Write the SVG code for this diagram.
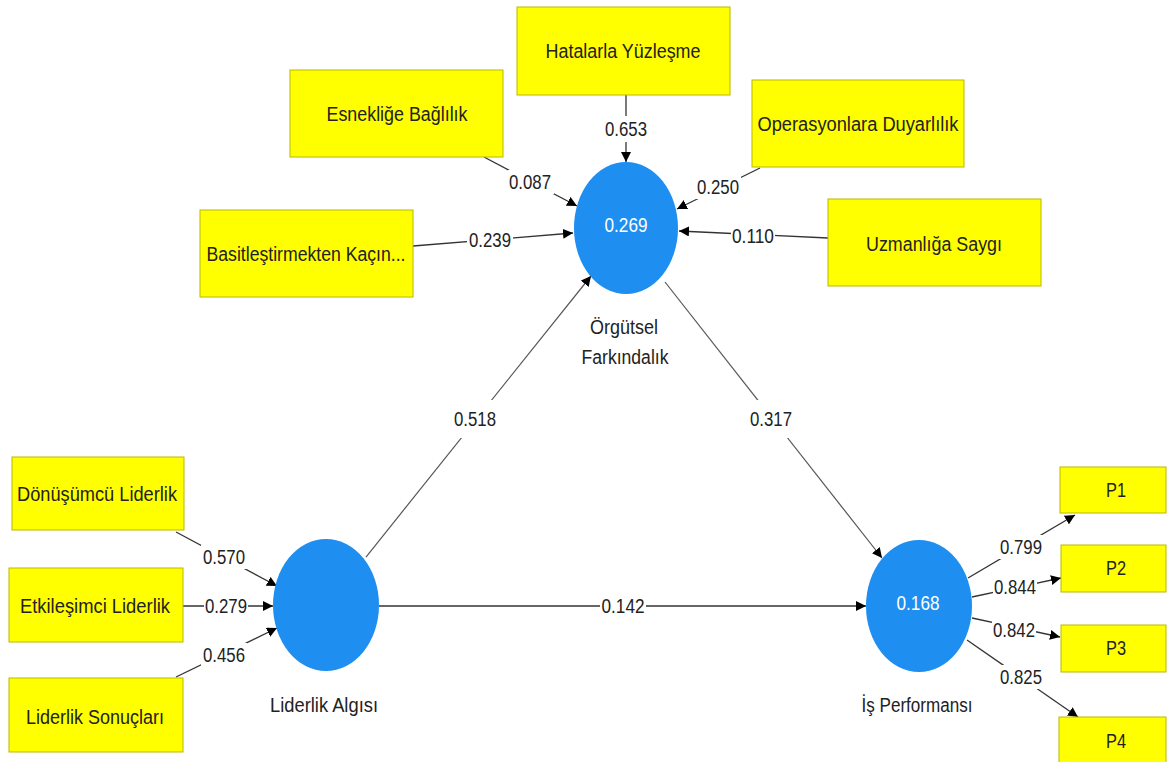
<svg xmlns="http://www.w3.org/2000/svg" width="1170" height="762" viewBox="0 0 1170 762">
<defs>
<style>
.box{fill:#ffff00;stroke:#b9b900;stroke-width:1}
.lv{fill:#1e8ff0}
.t{font-family:"Liberation Sans",Arial,sans-serif;font-size:20px;fill:#222;text-anchor:middle;dominant-baseline:central}
.w{fill:#ffffff}
.e{stroke:#333;stroke-width:1.3;fill:none;marker-end:url(#ah)}
.p{stroke:#555;stroke-width:1.2;fill:none;marker-end:url(#ah)}
.bg{fill:#fff}
.el{font-family:"Liberation Sans",Arial,sans-serif;font-size:20px;fill:#222;text-anchor:middle;dominant-baseline:central}
</style>
<marker id="ah" viewBox="0 0 10 10" refX="10" refY="5" markerWidth="10" markerHeight="10" markerUnits="userSpaceOnUse" orient="auto">
<path d="M0,0 L10,5 L0,10 z" fill="#000"/>
</marker>
</defs>
<rect width="1170" height="762" fill="#fff"/>
<g id="connectors">
<line class="e" x1="626" y1="95" x2="626" y2="162"/>
<line class="e" x1="484" y1="157" x2="577" y2="206"/>
<line class="e" x1="413" y1="246" x2="573" y2="233"/>
<line class="e" x1="760" y1="168" x2="677" y2="209"/>
<line class="e" x1="828" y1="238" x2="679" y2="231"/>
<line class="p" x1="366" y1="557" x2="591" y2="276"/>
<line class="p" x1="665" y1="282" x2="882" y2="558"/>
<line class="e" x1="379" y1="606" x2="866" y2="606"/>
<line class="e" x1="176" y1="532" x2="277" y2="586"/>
<line class="e" x1="183" y1="606" x2="273" y2="606"/>
<line class="e" x1="176" y1="677" x2="277" y2="628"/>
<line class="e" x1="968" y1="578" x2="1075" y2="515"/>
<line class="e" x1="972" y1="597" x2="1061" y2="578"/>
<line class="e" x1="972" y1="618" x2="1060" y2="637"/>
<line class="e" x1="967" y1="640" x2="1078" y2="717"/>
<rect class="bg" x="603" y="116" width="46" height="26"/>
<rect class="bg" x="508" y="170" width="46" height="24"/>
<rect class="bg" x="467" y="229" width="46" height="22"/>
<rect class="bg" x="695" y="175" width="46" height="24"/>
<rect class="bg" x="731" y="225" width="44" height="22"/>
<rect class="bg" x="452" y="400" width="46" height="38"/>
<rect class="bg" x="748" y="400" width="46" height="38"/>
<rect class="bg" x="600" y="595" width="46" height="22"/>
<rect class="bg" x="201" y="545" width="46" height="24"/>
<rect class="bg" x="204" y="595" width="44" height="22"/>
<rect class="bg" x="201" y="643" width="46" height="24"/>
<rect class="bg" x="998" y="535" width="46" height="24"/>
<rect class="bg" x="993" y="576" width="44" height="22"/>
<rect class="bg" x="992" y="619" width="44" height="22"/>
<rect class="bg" x="998" y="665" width="46" height="24"/>
<text class="el" x="626" y="129" textLength="42" lengthAdjust="spacingAndGlyphs">0.653</text>
<text class="el" x="530" y="182" textLength="42" lengthAdjust="spacingAndGlyphs">0.087</text>
<text class="el" x="490" y="240" textLength="42" lengthAdjust="spacingAndGlyphs">0.239</text>
<text class="el" x="718" y="187" textLength="42" lengthAdjust="spacingAndGlyphs">0.250</text>
<text class="el" x="753" y="236" textLength="42" lengthAdjust="spacingAndGlyphs">0.110</text>
<text class="el" x="475" y="419" textLength="42" lengthAdjust="spacingAndGlyphs">0.518</text>
<text class="el" x="771" y="419" textLength="42" lengthAdjust="spacingAndGlyphs">0.317</text>
<text class="el" x="623" y="606" textLength="43" lengthAdjust="spacingAndGlyphs">0.142</text>
<text class="el" x="224" y="557" textLength="42" lengthAdjust="spacingAndGlyphs">0.570</text>
<text class="el" x="226" y="606" textLength="42" lengthAdjust="spacingAndGlyphs">0.279</text>
<text class="el" x="224" y="655" textLength="42" lengthAdjust="spacingAndGlyphs">0.456</text>
<text class="el" x="1021" y="547" textLength="42" lengthAdjust="spacingAndGlyphs">0.799</text>
<text class="el" x="1015" y="587" textLength="42" lengthAdjust="spacingAndGlyphs">0.844</text>
<text class="el" x="1014" y="630" textLength="42" lengthAdjust="spacingAndGlyphs">0.842</text>
<text class="el" x="1021" y="677" textLength="42" lengthAdjust="spacingAndGlyphs">0.825</text>
</g>
<g id="hatalarla"><rect class="box" x="517" y="7" width="213" height="88"/><text class="t" x="623" y="51" textLength="155" lengthAdjust="spacingAndGlyphs">Hatalarla Yüzleşme</text></g>
<g id="esneklige"><rect class="box" x="290" y="70" width="213" height="87"/><text class="t" x="397" y="114" textLength="141" lengthAdjust="spacingAndGlyphs">Esnekliğe Bağlılık</text></g>
<g id="basitlestirmekten"><rect class="box" x="200" y="210" width="213" height="87"/><text class="t" x="306" y="254" textLength="199" lengthAdjust="spacingAndGlyphs">Basitleştirmekten Kaçın...</text></g>
<g id="operasyonlara"><rect class="box" x="752" y="80" width="212" height="87"/><text class="t" x="858" y="124" textLength="201" lengthAdjust="spacingAndGlyphs">Operasyonlara Duyarlılık</text></g>
<g id="uzmanliga"><rect class="box" x="828" y="199" width="213" height="87"/><text class="t" x="934" y="244" textLength="136" lengthAdjust="spacingAndGlyphs">Uzmanlığa Saygı</text></g>
<g id="donusumcu"><rect class="box" x="12" y="457" width="172" height="73"/><text class="t" x="97" y="494" textLength="160" lengthAdjust="spacingAndGlyphs">Dönüşümcü Liderlik</text></g>
<g id="etkilesimci"><rect class="box" x="9" y="568" width="174" height="74"/><text class="t" x="95" y="606" textLength="150" lengthAdjust="spacingAndGlyphs">Etkileşimci Liderlik</text></g>
<g id="sonuclari"><rect class="box" x="9" y="678" width="174" height="74"/><text class="t" x="95" y="717" textLength="138" lengthAdjust="spacingAndGlyphs">Liderlik Sonuçları</text></g>
<g id="p1"><rect class="box" x="1060" y="467" width="106" height="46"/><text class="t" x="1116" y="490" textLength="20" lengthAdjust="spacingAndGlyphs">P1</text></g>
<g id="p2"><rect class="box" x="1061" y="545" width="105" height="47"/><text class="t" x="1116" y="568" textLength="20" lengthAdjust="spacingAndGlyphs">P2</text></g>
<g id="p3"><rect class="box" x="1061" y="625" width="105" height="47"/><text class="t" x="1116" y="648" textLength="20" lengthAdjust="spacingAndGlyphs">P3</text></g>
<g id="p4"><rect class="box" x="1059" y="717" width="107" height="50"/><text class="t" x="1116" y="741" textLength="20" lengthAdjust="spacingAndGlyphs">P4</text></g>
<g id="orgutsel"><ellipse class="lv" cx="626" cy="228" rx="52" ry="66"/><text class="t w" x="626" y="225" textLength="43" lengthAdjust="spacingAndGlyphs">0.269</text><text class="t" x="624" y="327" textLength="68" lengthAdjust="spacingAndGlyphs">Örgütsel</text><text class="t" x="625" y="357" textLength="87" lengthAdjust="spacingAndGlyphs">Farkındalık</text></g>
<g id="liderlik"><ellipse class="lv" cx="326" cy="605" rx="53" ry="66"/><text class="t" x="324" y="705" textLength="108" lengthAdjust="spacingAndGlyphs">Liderlik Algısı</text></g>
<g id="isperformansi"><ellipse class="lv" cx="919" cy="606" rx="53" ry="66"/><text class="t w" x="918" y="603" textLength="43" lengthAdjust="spacingAndGlyphs">0.168</text><text class="t" x="917" y="705" textLength="111" lengthAdjust="spacingAndGlyphs">İş Performansı</text></g>
</svg>
